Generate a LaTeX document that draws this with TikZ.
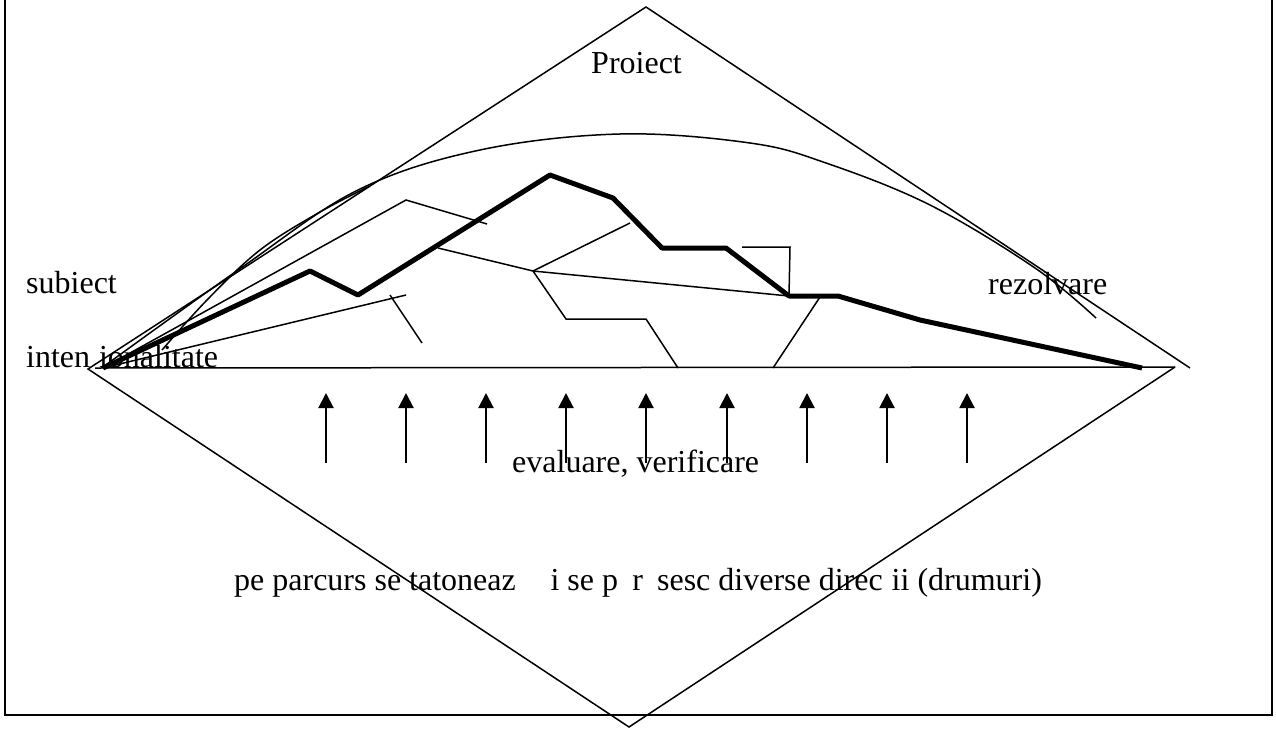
\documentclass[tikz,border=0pt]{standalone}
\usepackage{fontspec}
\setmainfont{Liberation Serif}
\usetikzlibrary{arrows.meta}
\begin{document}
\begin{tikzpicture}[x=1pt,y=-1pt,
  thinline/.style={line width=1.5pt},
  mainpath/.style={line width=5pt,line join=round},
  frameline/.style={line width=2.5pt},
  lbl/.style={inner sep=0pt,anchor=base west,font=\fontsize{32}{38}\selectfont},
  uparrow/.style={line width=2pt,-{Triangle[width=15pt,length=15pt]}}]
\useasboundingbox (0,0) rectangle (1276,728);
% frame
\draw[frameline] (5,0) -- (5,715) -- (1272,715) -- (1272,0);
% diamond
\coordinate (T) at (646,7);
\coordinate (L) at (88,369);
\coordinate (B) at (629,727);
\coordinate (R) at (1175,367);
\coordinate (RT) at (1190,368);
\draw[thinline] (RT) -- (T) -- (L) -- (B) -- (R);
\draw[thinline] (95,368) -- (R);
% start point
\coordinate (S) at (103,368);
% arcs
\draw[thinline] plot[smooth,tension=0.6] coordinates {(103,367) (241,268) (358,190) (480,150) (620,134) (750,143) (826,163) (930,205) (1035,268) (1096,318)};
\draw[thinline] plot[smooth,tension=0.6] coordinates {(162,350) (207,300) (260,250) (320,212) (370,186)};
% thick path
\coordinate (p1) at (310,271);
\coordinate (p2) at (358,295);
\coordinate (p3) at (550,175);
\coordinate (p4) at (613,198);
\coordinate (p5) at (662,248);
\coordinate (p6) at (726,248);
\coordinate (p7) at (789,296);
\coordinate (p8) at (838,296);
\coordinate (p9) at (920,320);
\coordinate (E) at (1142,368);
\draw[mainpath] (S) -- (p1) -- (p2) -- (p3) -- (p4) -- (p5) -- (p6) -- (p7) -- (p8) -- (p9) -- (E);
% thin branches
\coordinate (a1) at (406,200);
\coordinate (a2) at (487,224);
\draw[thinline] (S) -- (a1) -- (a2);
\coordinate (b1) at (406,295);
\draw[thinline] (S) -- (b1);
\coordinate (b2) at (390,295);
\coordinate (b3) at (422,343);
\draw[thinline] (b2) -- (b3);
\coordinate (c0) at (438,248);
\coordinate (c1) at (533,271);
\draw[thinline] (c0) -- (c1) -- (p7);
\coordinate (c2) at (630,223);
\draw[thinline] (c1) -- (c2);
\coordinate (d1) at (566,319);
\coordinate (d2) at (646,319);
\coordinate (d3) at (678,368);
\draw[thinline] (c1) -- (d1) -- (d2) -- (d3);
\coordinate (e1) at (742,247);
\coordinate (e2) at (790,247);
\draw[thinline] (e1) -- (e2) -- (p7);
\coordinate (f1) at (820,297);
\coordinate (f2) at (773,368);
\draw[thinline] (f1) -- (f2);
% arrows
\foreach \x in {326,406,486,566,646,727,807,887,967}
  \draw[uparrow] (\x,463) -- (\x,393);
% labels
\node[lbl] (proiect) at (591,73) {Proiect};
\node[lbl] (subiect) at (26,293) {subiect};
\node[lbl] (intent) at (26,367) {inten\phantom{ț}ionalitate};
\node[lbl] (rezolvare) at (988,294) {rezolvare};
\node[lbl] (eval) at (512,472) {evaluare, verificare};
\node[lbl] (parcurs) at (234,590) {pe parcurs se tatoneaz\phantom{ă} \phantom{ș}i se p\phantom{ă}r\phantom{ă}sesc diverse direc\phantom{ț}ii (drumuri)};
\end{tikzpicture}
\end{document}
